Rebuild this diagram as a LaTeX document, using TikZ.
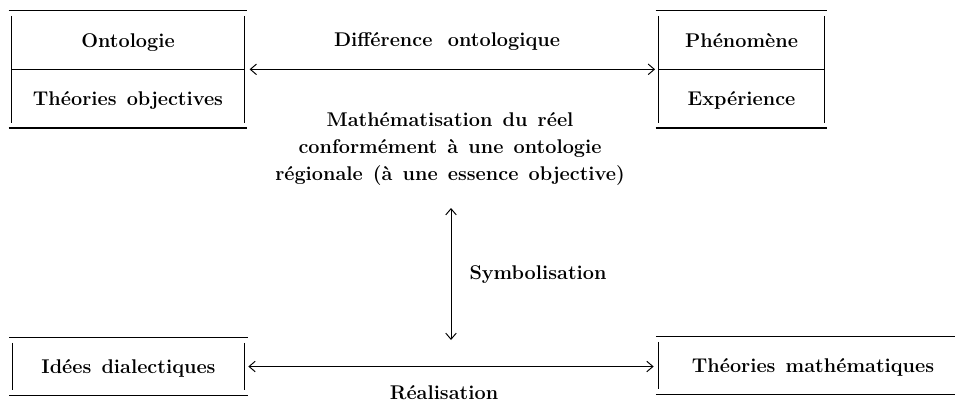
\documentclass[tikz,border=0pt]{standalone}
\usepackage{tikz}
\usetikzlibrary{arrows.meta, positioning, calc}
\newcommand{\labelfont}{\fontsize{11.3}{14}\selectfont\bfseries\spaceskip=5.8pt plus 1pt minus 1pt\relax}
\tikzset{
    cell/.style={
        rectangle,
        inner sep=0pt,
        minimum height=33pt,
        text height=8pt,
        text depth=0pt,
        font=\labelfont
    },
    hrule/.style={
        draw=black,
        line width=0.8pt
    },
    vrule/.style={
        draw=black,
        line width=0.55pt
    },
    link/.style={
        draw=black,
        line width=0.55pt,
        {Straight Barb[length=3.5pt,width=6pt]}-{Straight Barb[length=3.5pt,width=6pt]}
    },
    caption/.style={
        font=\labelfont,
        align=center
    }
}

\begin{document}
\begin{tikzpicture}[x=0.02cm, y=-0.02cm]
\clip (0,0) rectangle (955,409);

% Upper left table
\node[cell, minimum width=132pt] (onto) at (128,40) {Ontologie};
\node[cell, minimum width=132pt, below=0pt of onto] (theo) {Théories objectives};

% Upper right table
\node[cell, minimum width=94pt] (phen) at (741.5,40) {Phénomène};
\node[cell, minimum width=94pt, below=0pt of phen] (expe) {Expérience};

% Lower tables
\node[cell, minimum width=132pt, minimum height=32.5pt] (idee) at (128.5,366.5) {Idées dialectiques};
\node[cell, minimum width=175pt, minimum height=32.5pt] (tmath) at (813,365.5) {Théories mathématiques};

% Table rules
\draw[hrule] ([xshift=-1.7pt]onto.north west) -- ([xshift=1.7pt]onto.north east);
\draw[hrule] (onto.south west) -- (onto.south east);
\draw[hrule] ([xshift=-1.7pt]theo.south west) -- ([xshift=1.7pt]theo.south east);
\draw[vrule] ([yshift=-3pt]onto.north west) -- ([yshift=3pt]theo.south west);
\draw[vrule] ([yshift=-3pt]onto.north east) -- ([yshift=3pt]theo.south east);

\draw[hrule] ([xshift=-1.7pt]phen.north west) -- ([xshift=1.7pt]phen.north east);
\draw[hrule] (phen.south west) -- (phen.south east);
\draw[hrule] ([xshift=-1.7pt]expe.south west) -- ([xshift=1.7pt]expe.south east);
\draw[vrule] ([yshift=-3pt]phen.north west) -- ([yshift=3pt]expe.south west);
\draw[vrule] ([yshift=-3pt]phen.north east) -- ([yshift=3pt]expe.south east);

\draw[hrule] ([xshift=-1.7pt]idee.north west) -- ([xshift=1.7pt]idee.north east);
\draw[hrule] ([xshift=-1.7pt]idee.south west) -- ([xshift=1.7pt]idee.south east);
\draw[vrule] ([yshift=-3pt]idee.north west) -- ([yshift=3pt]idee.south west);
\draw[vrule] ([yshift=-3pt]idee.north east) -- ([yshift=3pt]idee.south east);

\draw[hrule] ([xshift=-1.7pt]tmath.north west) -- ([xshift=1.7pt]tmath.north east);
\draw[hrule] ([xshift=-1.7pt]tmath.south west) -- ([xshift=1.7pt]tmath.south east);
\draw[vrule] ([yshift=-3pt]tmath.north west) -- ([yshift=3pt]tmath.south west);
\draw[vrule] ([yshift=-3pt]tmath.north east) -- ([yshift=3pt]tmath.south east);

% Labels
\node[caption] (diff) at (447,42) {Différence\hspace{3pt} ontologique};
\node[caption] (math) at (450,149) {Mathématisation du réel\\[1.4pt]conformément à une ontologie\\[1.4pt]régionale (à une essence objective)};
\node[caption] (symb) at (538,275) {Symbolisation};
\node[caption] (real) at (444,393) {Réalisation};

% Arrows
\coordinate (symtop) at (451,208);
\coordinate (symbot) at (451,340);
\draw[link, shorten <=3pt, shorten >=2pt] (onto.south east) -- (phen.south west);
\draw[link, shorten <=2pt, shorten >=3pt] (idee.east) -- (idee.east -| tmath.west);
\draw[link] (symtop) -- (symbot);

\end{tikzpicture}
\end{document}
